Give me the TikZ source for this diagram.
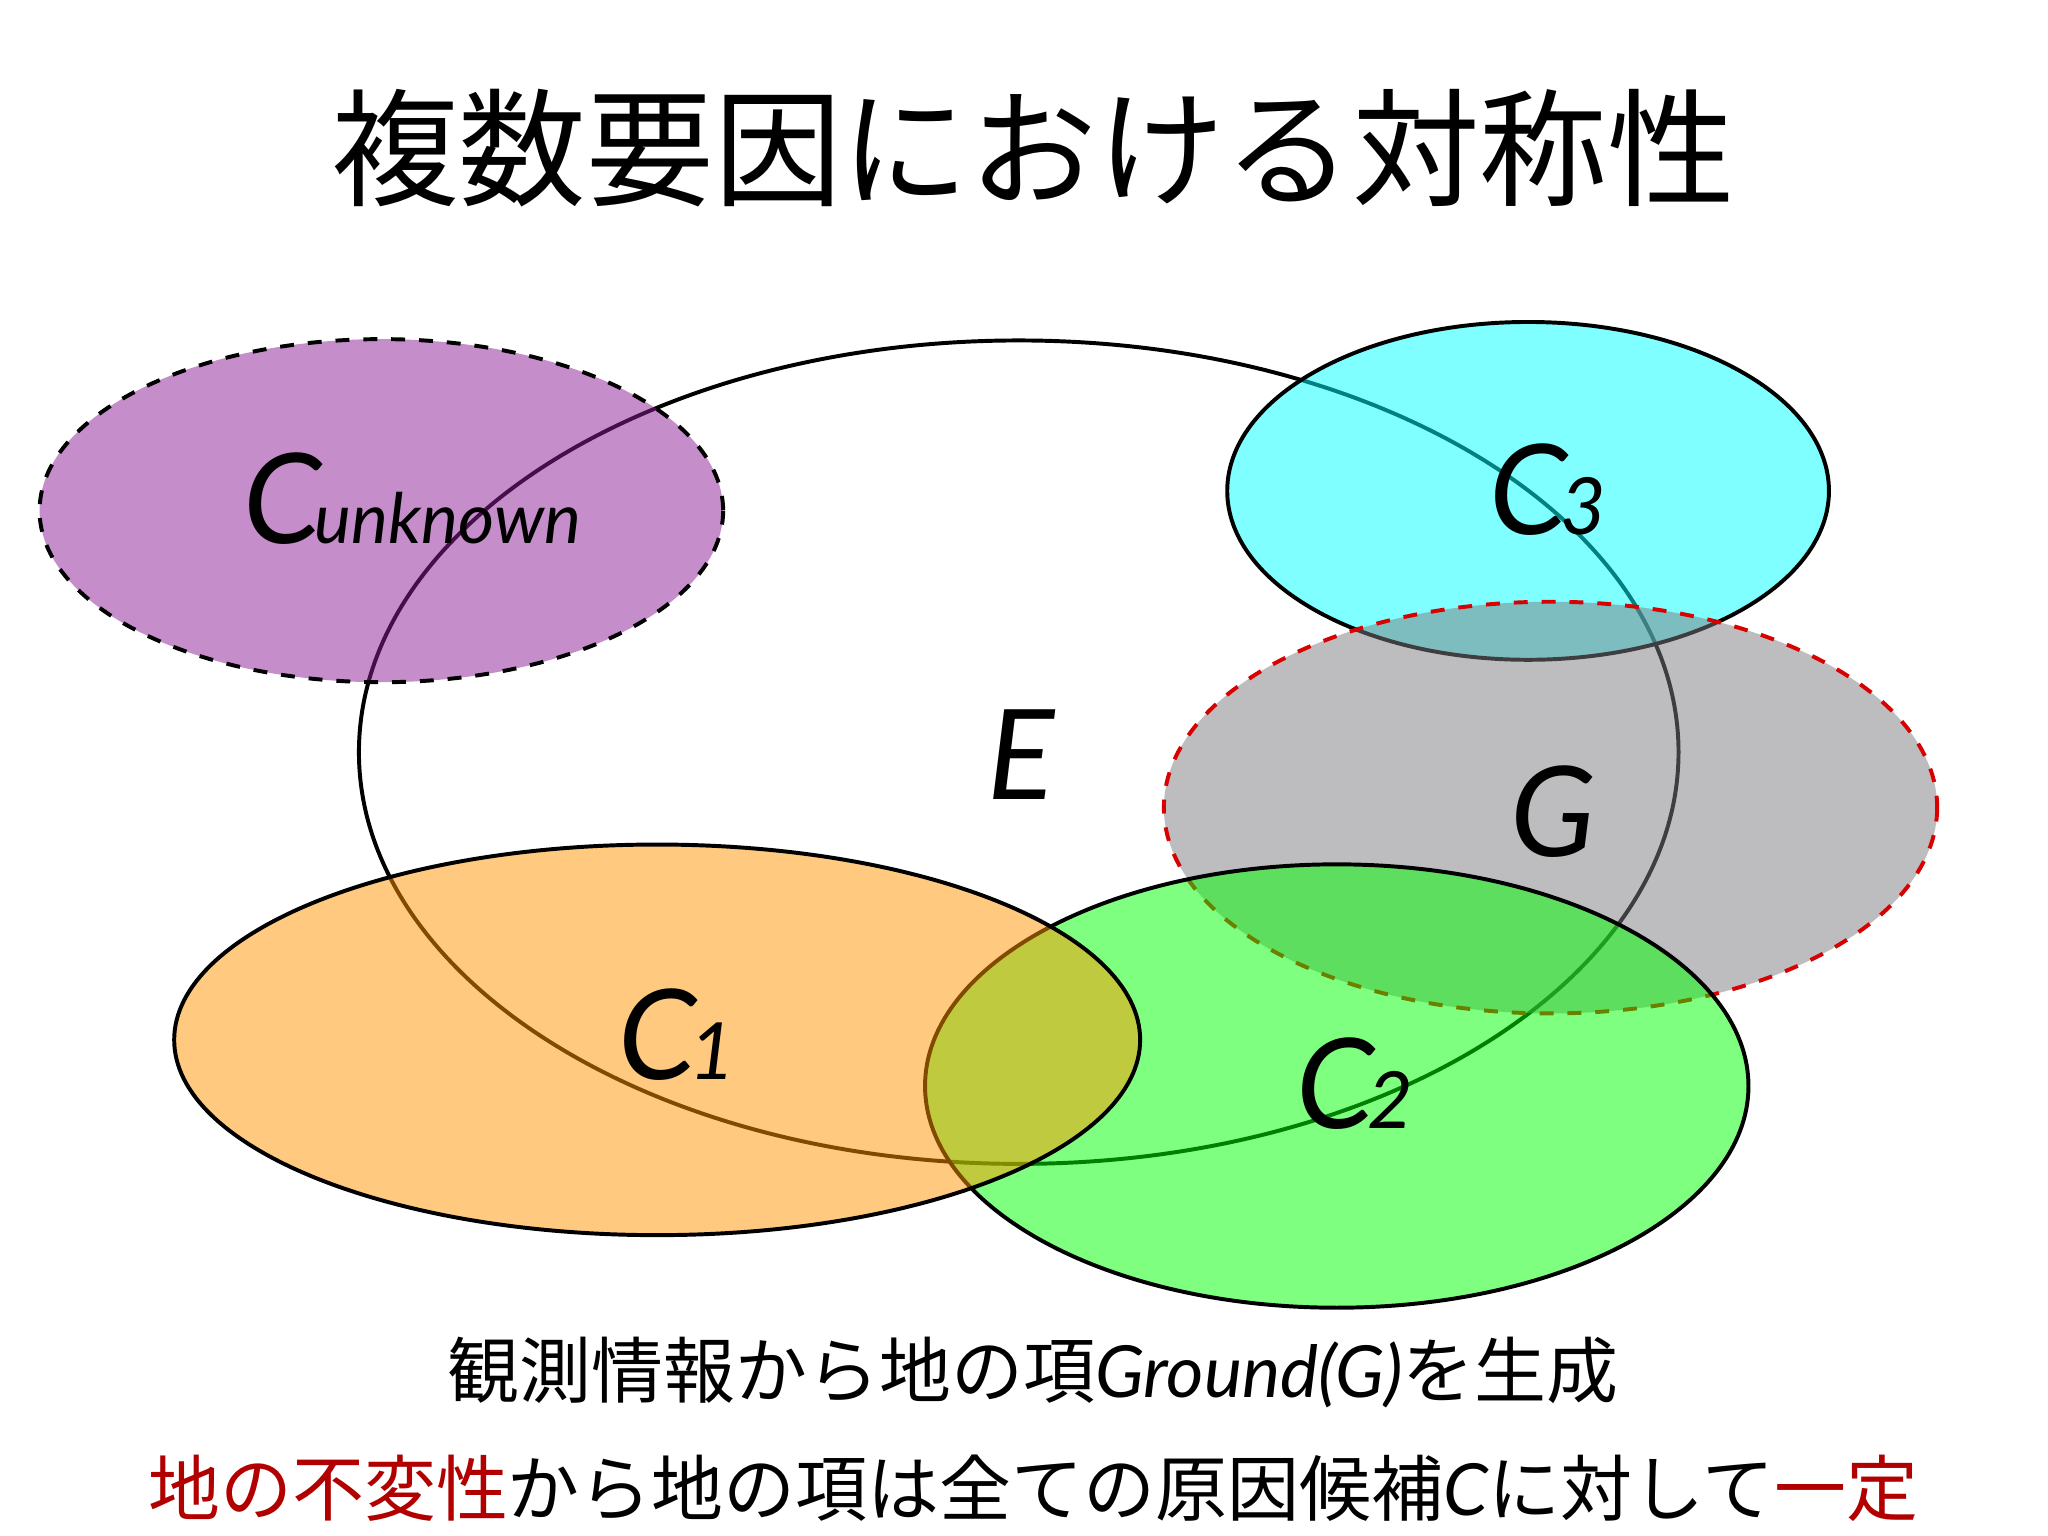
\documentclass[tikz,border=0pt]{standalone}
\usepackage{fontspec}
\setmainfont{Lato}
\newfontfamily\cjk{Noto Sans CJK JP}
\begin{document}
\begin{tikzpicture}[x=0.01cm,y=-0.01cm,
  bd/.style={line width=0.85pt},
  lbl/.style={font=\itshape\fontsize{27}{27}\selectfont}]
\useasboundingbox (0,0) rectangle (1552,1164);
\fill[white] (0,0) rectangle (1552,1164);
\node[font=\cjk\fontsize{27.5}{27.5}\selectfont] (title) at (783,112) {複数要因における対称性};
% E outline
\draw[bd] (772,570) ellipse [x radius=500,y radius=312];
% fills
\fill[fill={rgb,255:red,140;green,30;blue,150},fill opacity=0.5] (289,387) ellipse [x radius=259,y radius=130];
\draw[bd,dashed] (289,387) ellipse [x radius=259,y radius=130];
\fill[fill={rgb,255:red,0;green,255;blue,255},fill opacity=0.5] (1158,372) ellipse [x radius=228,y radius=128];
\draw[bd] (1158,372) ellipse [x radius=228,y radius=128];
\fill[fill={rgb,255:red,125;green,125;blue,130},fill opacity=0.5] (1175,612) ellipse [x radius=293,y radius=156];
\draw[bd,dashed,red!85!black] (1175,612) ellipse [x radius=293,y radius=156];
\fill[fill={rgb,255:red,0;green,255;blue,0},fill opacity=0.5] (1013,823) ellipse [x radius=312,y radius=168];
\draw[bd] (1013,823) ellipse [x radius=312,y radius=168];
\fill[fill={rgb,255:red,255;green,150;blue,0},fill opacity=0.5] (498,788) ellipse [x radius=366,y radius=148];
\draw[bd] (498,788) ellipse [x radius=366,y radius=148];
% labels
\node[lbl] (E) at (774,572) {E};
\node[lbl] (G) at (1177,615) {G};
\node[lbl,anchor=base west] (cu) at (172,412) {C\kern-1.5pt{\fontsize{15}{15}\selectfont unknown}};
\node[lbl,anchor=base west] (c3) at (1116,405) {C\kern-1.5pt{\fontsize{17}{17}\selectfont 3}};
\node[lbl,anchor=base west] (c1) at (456,818) {C\kern-1.5pt{\fontsize{17}{17}\selectfont 1}};
\node[lbl,anchor=base west] (c2) at (970,855) {C\kern-1.5pt{\fontsize{17}{17}\selectfont 2}};
\node[font=\fontsize{15.5}{15.5}\selectfont] (l1) at (783,1040) {{\cjk 観測情報から地の項}\textit{Ground(G)}{\cjk を生成}};
\node[font=\fontsize{15.5}{15.5}\selectfont] (l2) at (783,1128) {\textcolor{red!70!black}{\cjk 地の不変性}{\cjk から地の項は全ての原因候補}\textit{C}{\cjk に対して}\textcolor{red!70!black}{\cjk 一定}};
\end{tikzpicture}
\end{document}
